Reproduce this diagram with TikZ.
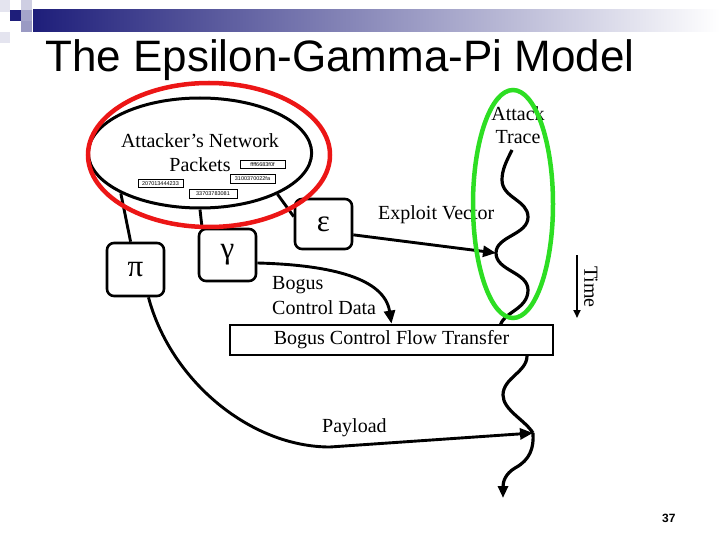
\documentclass[tikz,border=0pt]{standalone}
\usepackage{fontspec}
\setmainfont{Liberation Serif}
\newfontfamily\slidesans{Liberation Sans}
\usetikzlibrary{shapes.geometric, arrows.meta, positioning, calc}
\definecolor{hdrnavy}{RGB}{30,30,122}
\definecolor{markred}{RGB}{236,22,22}
\definecolor{markgreen}{RGB}{45,222,35}

\begin{document}
\begin{tikzpicture}[x=1pt, y=-1pt,
  lbl/.style={inner sep=0pt, font=\fontsize{20}{24}\selectfont},
  greekbox/.style={draw, line width=2.6pt, rounded corners=7pt, minimum width=57pt,
    minimum height=52pt, inner sep=0pt, font=\fontsize{31}{31}\selectfont},
  pkt/.style={draw, line width=0.7pt, inner sep=0pt, minimum width=45pt,
    minimum height=8.5pt, font=\slidesans\fontsize{5.5}{6}\selectfont},
  conn/.style={line width=2.9pt},
  bigtip/.style={-{Triangle[length=13pt,width=11pt]}}
]
\useasboundingbox (0,0) rectangle (720,540);

% Header bar
\shade[left color=hdrnavy, right color=white] (33,10) rectangle (720,32);
\fill[hdrnavy!12] (0,0) rectangle (10,12);
\fill[hdrnavy!22] (21,0) rectangle (32,10);
\fill[hdrnavy] (10,10) rectangle (21,21);
\fill[hdrnavy!40] (21,10) rectangle (32,21);
\fill[hdrnavy!45] (21,21) rectangle (32,32);
\fill[hdrnavy!12] (0,32) rectangle (10,43);
\node[anchor=base west, inner sep=0pt, font=\slidesans\fontsize{44}{50}\selectfont]
  (title) at (45,72) {The Epsilon-Gamma-Pi Model};

% Attack trace
\draw[line width=3.2pt] (512,150) .. controls (506,162) and (502,170) .. (502,180)
  .. controls (502,198) and (528,200) .. (528,217)
  .. controls (528,235) and (496,236) .. (496,253) coordinate (hitA)
  .. controls (496,271) and (528,272) .. (528,290)
  .. controls (528,310) and (502,312) .. (500,327)
  .. controls (499,340) and (528,342) .. (527,356)
  .. controls (527,372) and (503,378) .. (503,395)
  .. controls (503,410) and (525,420) .. (533,433) coordinate (hitB);
\draw[line width=3.2pt, -{Triangle[length=12pt,width=10pt]}] (hitB)
  .. controls (534,448) and (530,460) .. (515,468)
  .. controls (505,474) and (503,482) .. (503,498);
\node[lbl, anchor=north, align=center, font=\fontsize{20}{23}\selectfont]
  (tracelbl) at (518,106) {Attack\\Trace};

% Packets
\node[ellipse, draw, line width=3pt, minimum width=210pt, minimum height=110pt,
  align=center, lbl] (pkts) at (200,153) {Attacker’s Network\\Packets};
\node[pkt] (pktA) at (262.5,164.5) {ffff6683f0f};
\node[pkt] (pktB) at (252.5,179) {3100370022fa};
\node[pkt] (pktC) at (160.5,183.5) {207013444233};
\node[pkt, minimum width=48pt] (pktD) at (213,194) {33703783081};

% Greek boxes
\node[greekbox, minimum height=53pt] (pibox) at (135.5,269.5) {π};
\node[greekbox] (gambox) at (227.5,255) {γ};
\node[greekbox, minimum height=50pt] (epsbox) at (323.5,224) {ε};

% Transfer box
\node[draw, line width=2.8pt, fill=white, minimum width=323pt, minimum height=30pt,
  lbl] (bcft) at (391.5,340) {Bogus Control Flow Transfer};

% Connectors
\draw[conn] (pkts.207) -- (pibox.100);
\draw[conn] (pkts.south) -- (gambox.133);
\draw[conn] (pkts.332) -- (epsbox.166);
\draw[conn, bigtip] (gambox.-15) .. controls +(75,2) and +(-7,-45) .. (bcft.north);
\draw[conn, bigtip] (epsbox.-20) -- (hitA);
\draw[conn, bigtip] (pibox.-65) .. controls +(22,83) and +(-80,0) .. (330,447) -- (hitB);

% Labels
\node[lbl, anchor=base west] (exploitlbl) at (378,220) {Exploit Vector};
\node[lbl, anchor=north west, align=left, font=\fontsize{20}{25}\selectfont]
  (bogusdata) at (272,276.5) {Bogus\\Control Data};
\node[lbl, anchor=base west] (payloadlbl) at (322,432) {Payload};

% Time
\coordinate (tstart) at (577,255);
\coordinate (tend) at (577,318);
\draw[line width=1.8pt, -{Triangle[length=8pt,width=7pt]}] (tstart) -- (tend);
\node[lbl, rotate=-90] (timelbl) at (591,287) {Time};

% Highlights
\draw[markred, line width=4.5pt] (209,155) ellipse [x radius=121pt, y radius=72pt];
\draw[markgreen, line width=4.5pt] (513,204) ellipse [x radius=40pt, y radius=114pt];

\node[anchor=base west, inner sep=0pt, font=\slidesans\bfseries\fontsize{12}{14}\selectfont]
  (pageno) at (662,522) {37};
\end{tikzpicture}
\end{document}
